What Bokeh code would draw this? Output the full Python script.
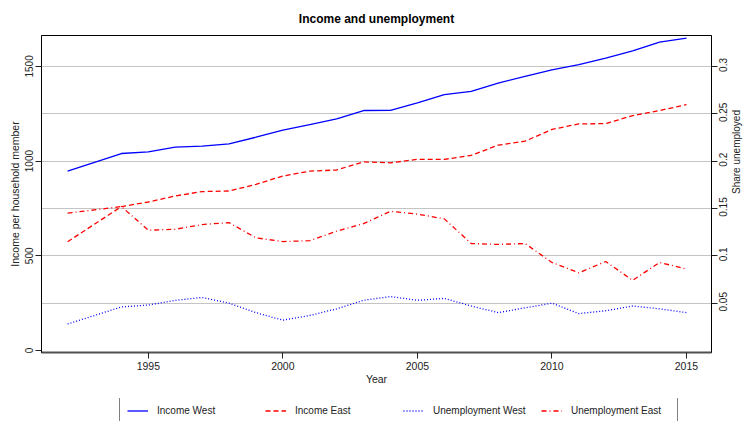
import math
from bokeh.plotting import figure
from bokeh.layouts import column
from bokeh.models import (Range1d, LinearAxis, FixedTicker, Legend, LegendItem,
                          CustomJSTickFormatter)
from bokeh.embed import file_html
from bokeh.resources import INLINE

# ---- data (1993 not shown) ----
years = [1992, 1994, 1995, 1996, 1997, 1998, 1999, 2000, 2001, 2002, 2003,
         2004, 2005, 2006, 2007, 2008, 2009, 2010, 2011, 2012, 2013, 2014, 2015]
income_west = [947, 1040, 1049, 1074, 1079, 1091, 1126, 1163, 1193, 1223, 1267,
               1268, 1307, 1351, 1368, 1412, 1447, 1482, 1509, 1544, 1582, 1628, 1649]
income_east = [574, 760, 784, 816, 839, 842, 877, 921, 947, 953, 996,
               991, 1009, 1009, 1030, 1084, 1105, 1167, 1196, 1198, 1240, 1267, 1298]
unemp_west = [0.028, 0.046, 0.048, 0.053, 0.056, 0.050, 0.040, 0.032, 0.037, 0.044, 0.053,
              0.057, 0.053, 0.055, 0.047, 0.040, 0.045, 0.050, 0.039, 0.042, 0.047, 0.044, 0.040]
unemp_east = [0.145, 0.152, 0.127, 0.128, 0.133, 0.135, 0.119, 0.115, 0.116, 0.126, 0.134,
              0.147, 0.144, 0.139, 0.113, 0.112, 0.113, 0.093, 0.082, 0.094, 0.074, 0.093, 0.086]

x_ticks = [1995, 2000, 2005, 2010, 2015]
left_ticks = [0, 500, 1000, 1500]
right_ticks = [0.05, 0.1, 0.15, 0.2, 0.25, 0.3]
right_tick_labels = ["0.05", "0.1", "0.15", "0.2", "0.25", "0.3"]
grid_ticks = [250, 500, 750, 1000, 1250, 1500]
labels = ["Income West", "Income East", "Unemployment West", "Unemployment East"]
series = [income_west, income_east, unemp_west, unemp_east]

FONT = "Liberation Sans"
TXT = "#222222"
Y_LO, Y_HI = -10.5, 1663
RATIO = 5000.0          # left units per right unit

STYLES = [dict(line_color="#0000ff", line_width=1.3),
          dict(line_color="#ff0000", line_width=1.3, line_dash="5 3"),
          dict(line_color="#0000ff", line_width=1.3, line_dash="1 2"),
          dict(line_color="#ff0000", line_width=1.3, line_dash="5 3 1 3")]

p = figure(width=750, height=398, output_backend="svg", toolbar_location=None,
           x_range=Range1d(1991.03, 2015.93), y_range=Range1d(Y_LO, Y_HI),
           min_border_left=41, min_border_right=37, min_border_top=34, min_border_bottom=46)
p.extra_y_ranges = {"share": Range1d(Y_LO / RATIO, Y_HI / RATIO)}

p.background_fill_color = "white"
p.border_fill_color = "white"
p.outline_line_color = "black"
p.outline_line_width = 1

# title
p.title.text = "Income and unemployment"
p.title.align = "center"
p.title.text_font = FONT
p.title.text_font_size = "12px"
p.title.text_font_style = "bold"
p.title.text_color = "black"
p.title.standoff = 19

# grids
p.xgrid.visible = False
p.ygrid.ticker = FixedTicker(ticks=grid_ticks)
p.ygrid.grid_line_color = "#c4c4c4"
p.ygrid.grid_line_width = 1.2

# x axis
xa = p.xaxis[0]
xa.ticker = FixedTicker(ticks=x_ticks)
xa.axis_label = "Year"
xa.axis_line_color = "#505050"
xa.axis_line_width = 2
xa.major_tick_line_color = "#222222"
xa.major_tick_out = 6
xa.major_tick_in = 0
xa.minor_tick_line_color = None
xa.major_label_standoff = 3
xa.axis_label_standoff = 0
xa.major_label_text_font = FONT
xa.major_label_text_font_size = "10.5px"
xa.major_label_text_color = TXT
xa.axis_label_text_font = FONT
xa.axis_label_text_font_size = "10.5px"
xa.axis_label_text_font_style = "normal"
xa.axis_label_text_color = TXT

# left axis
ya = p.yaxis[0]
ya.ticker = FixedTicker(ticks=left_ticks)
ya.axis_label = "Income per household member"
ya.axis_line_color = "black"
ya.major_tick_line_color = "#222222"
ya.major_tick_out = 6
ya.major_tick_in = 0
ya.minor_tick_line_color = None
ya.major_label_orientation = "vertical"
ya.major_label_standoff = 2
ya.axis_label_standoff = 2
ya.major_label_text_font = FONT
ya.major_label_text_font_size = "10px"
ya.major_label_text_color = TXT
ya.axis_label_text_font = FONT
ya.axis_label_text_font_size = "10.5px"
ya.axis_label_text_font_style = "normal"
ya.axis_label_text_color = TXT

# right axis, part 1: line and tick marks only
ra = LinearAxis(y_range_name="share", ticker=FixedTicker(ticks=right_ticks),
                formatter=CustomJSTickFormatter(code="return '';"))
ra.axis_line_color = "black"
ra.major_tick_line_color = "#222222"
ra.major_tick_out = 6
ra.major_tick_in = 0
ra.minor_tick_line_color = None
ra.major_label_standoff = 0
ra.major_label_text_font_size = "1px"
p.add_layout(ra, "right")

# right axis, part 2: labels reading bottom-to-top, centred on the ticks
PX_PER_UNIT = 950.0
label_shift = [(len(s) - 1) * 5.56 / 2 / PX_PER_UNIT for s in right_tick_labels]
shifted = [t - d for t, d in zip(right_ticks, label_shift)]
rb = LinearAxis(y_range_name="share", axis_label="Share unemployed",
                ticker=FixedTicker(ticks=shifted),
                formatter=CustomJSTickFormatter(code="return String(Math.round(tick*20)/20);"))
rb.axis_line_color = None
rb.major_tick_line_color = None
rb.major_tick_out = 0
rb.major_tick_in = 0
rb.minor_tick_line_color = None
rb.major_label_orientation = math.pi / 2
rb.axis_label_orientation = math.pi / 2
rb.major_label_standoff = 6
rb.axis_label_standoff = 2
rb.major_label_text_font = FONT
rb.major_label_text_font_size = "10px"
rb.major_label_text_color = TXT
rb.axis_label_text_font = FONT
rb.axis_label_text_font_size = "10px"
rb.axis_label_text_font_style = "normal"
rb.axis_label_text_color = TXT
p.add_layout(rb, "right")

# lines
p.line(years, income_west, **STYLES[0])
p.line(years, income_east, **STYLES[1])
p.line(years, unemp_west, y_range_name="share", **STYLES[2])
p.line(years, unemp_east, y_range_name="share", **STYLES[3])

# legend strip underneath; its sample renderers use the same series but lie
# outside this strip's ranges, so only the legend is seen
lg = figure(width=750, height=23, output_backend="svg", toolbar_location=None,
            x_range=Range1d(0, 1), y_range=Range1d(0, 1),
            x_axis_location=None, y_axis_location=None,
            min_border_left=0, min_border_right=0, min_border_top=0, min_border_bottom=0)
lg.outline_line_color = None
lg.grid.visible = False
lg.background_fill_color = "white"
lg.border_fill_color = "white"
samples = [lg.line(years, s, **st) for s, st in zip(series, STYLES)]

legend = Legend(items=[LegendItem(label=l, renderers=[r]) for l, r in zip(labels, samples)],
                orientation="horizontal", location=(78, -4), margin=0,
                padding=7, spacing=9, label_width=99, glyph_width=21,
                glyph_height=13, label_height=13, label_standoff=9,
                border_line_color="black", border_line_width=1,
                background_fill_color="white", background_fill_alpha=1,
                label_text_font=FONT, label_text_font_size="10px",
                label_text_color=TXT)
lg.add_layout(legend)

open("out.html", "w").write(file_html(column(p, lg, spacing=0), INLINE))
